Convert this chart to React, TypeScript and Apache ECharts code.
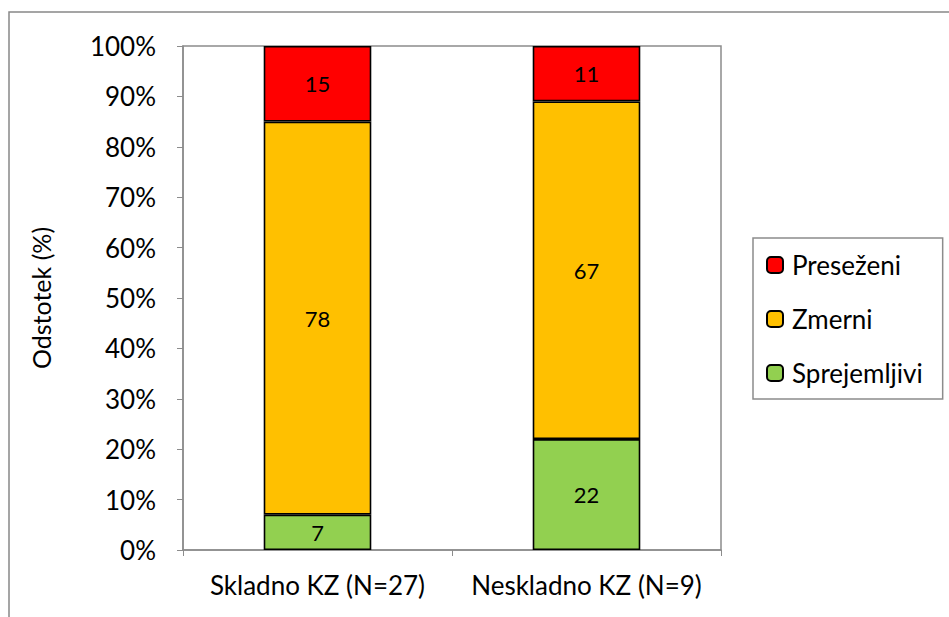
import React, { useEffect, useRef } from "react";
import * as echarts from "echarts";

const categories = ["Skladno KZ (N=27)", "Neskladno KZ (N=9)"];
const sprejemljivi = [7, 22];
const zmerni = [78, 67];
const presezeni = [15, 11];
const yTicks = [0, 10, 20, 30, 40, 50, 60, 70, 80, 90, 100];

const FONT = "Lato";

export default function App() {
  const ref = useRef<HTMLDivElement>(null);
  useEffect(() => {
    if (!ref.current) return;
    const chart = echarts.init(ref.current, null, { renderer: "svg" });
    const barBase = {
      type: "bar" as const,
      stack: "total",
      barWidth: "40%",
      itemStyle: { borderColor: "#000", borderWidth: 1.6 },
      label: { show: true, position: "inside" as const, color: "#000", fontSize: 22, fontFamily: FONT },
    };
    chart.setOption({
      animation: false,
      textStyle: { fontFamily: FONT },
      graphic: [
        {
          type: "rect",
          shape: { x: 9, y: 12, width: 1000, height: 700 },
          style: { fill: "none", stroke: "#888", lineWidth: 1.5 },
          silent: true,
        },
      ],
      grid: { left: 183, right: 228, top: 46, bottom: 67, show: true, borderColor: "#8c8c8c", borderWidth: 1.5 },
      legend: {
        orient: "vertical",
        left: 753,
        top: 238,
        padding: [14, 20, 13, 13],
        itemGap: 28,
        itemWidth: 16,
        itemHeight: 16,
        borderColor: "#8c8c8c",
        borderWidth: 1.5,
        textStyle: { fontSize: 26, color: "#000", fontFamily: FONT, padding: [0, 0, 0, 4] },
        data: ["Preseženi", "Zmerni", "Sprejemljivi"],
      },
      xAxis: {
        type: "category",
        data: categories,
        axisLine: { lineStyle: { color: "#8c8c8c", width: 1.5 } },
        axisTick: { show: true, length: 6, lineStyle: { color: "#8c8c8c" } },
        axisLabel: { fontSize: 26, color: "#000", margin: 22, fontFamily: FONT, interval: 0, hideOverlap: false },
      },
      yAxis: {
        type: "value",
        min: 0,
        max: 100,
        interval: 10,
        name: "Odstotek (%)",
        nameLocation: "middle",
        nameGap: 130,
        nameTextStyle: { fontSize: 25, color: "#000", fontFamily: FONT },
        axisLine: { show: true, lineStyle: { color: "#8c8c8c", width: 1.5 } },
        axisTick: { show: true, length: 6, lineStyle: { color: "#8c8c8c" } },
        splitLine: { show: false },
        axisLabel: {
          fontSize: 26,
          color: "#000",
          margin: 27,
          fontFamily: FONT,
          formatter: (v: number) => (yTicks.includes(v) ? v + "%" : ""),
        },
      },
      series: [
        { ...barBase, name: "Sprejemljivi", data: sprejemljivi, itemStyle: { ...barBase.itemStyle, color: "#92D050" } },
        { ...barBase, name: "Zmerni", data: zmerni, itemStyle: { ...barBase.itemStyle, color: "#FFC000" } },
        { ...barBase, name: "Preseženi", data: presezeni, itemStyle: { ...barBase.itemStyle, color: "#FF0000" } },
      ],
    });
    return () => chart.dispose();
  }, []);
  return <div ref={ref} style={{ width: 949, height: 617, position: "absolute", left: 0, top: 0 }} />;
}
